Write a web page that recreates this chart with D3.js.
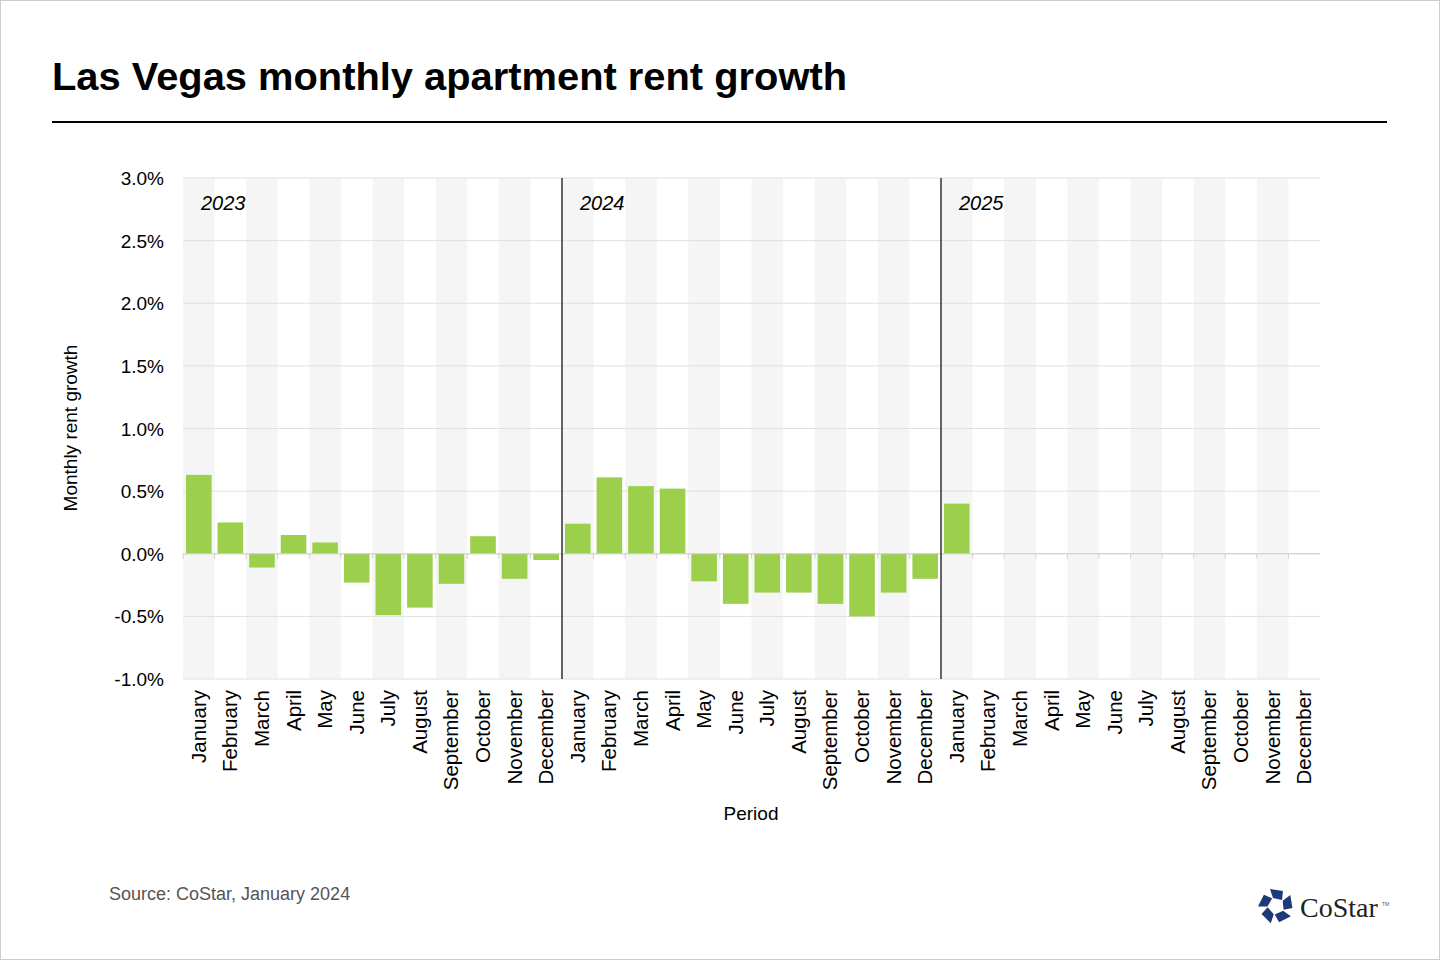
<!DOCTYPE html>
<html><head><meta charset="utf-8">
<script src="https://cdn.jsdelivr.net/npm/d3@7"></script>
<style>body{margin:0;background:#fff;font-family:Arial,"Liberation Sans",sans-serif}</style>
</head><body>
<svg id="c" width="1440" height="960"></svg>
<script>
// data
const months = ['January','February','March','April','May','June','July','August','September','October','November','December'];
const years = ['2023', '2024', '2025'];
const growth2023 = [0.63, 0.25, -0.11, 0.15, 0.09, -0.23, -0.49, -0.43, -0.24, 0.14, -0.20, -0.05];
const growth2024 = [0.24, 0.61, 0.54, 0.52, -0.22, -0.40, -0.31, -0.31, -0.40, -0.50, -0.31, -0.20];
const growth2025 = [0.40];
const yTicks = [-1.0, -0.5, 0, 0.5, 1.0, 1.5, 2.0, 2.5, 3.0];

const periods = [];
years.forEach((yr) => months.forEach((m) => periods.push(yr + '-' + m)));
const values = [...growth2023, ...growth2024, ...growth2025];

const svg = d3.select('#c');
svg.append('rect').attr('x', 0.5).attr('y', 0.5).attr('width', 1439).attr('height', 959)
  .attr('fill', '#fff').attr('stroke', '#ccc');

svg.append('text').attr('x', 52).attr('y', 90).text('Las Vegas monthly apartment rent growth')
  .attr('font-size', 39).attr('font-weight', 'bold').attr('fill', '#000')
  .attr('textLength', 795).attr('lengthAdjust', 'spacingAndGlyphs');
svg.append('line').attr('x1', 52).attr('x2', 1387).attr('y1', 122).attr('y2', 122)
  .attr('stroke', '#000').attr('stroke-width', 2);

const plotLeft = 183, plotRight = 1320, plotTop = 178, plotBottom = 679;
const x = d3.scaleBand().domain(periods).range([plotLeft, plotRight]).paddingInner(0);
const y = d3.scaleLinear().domain([-1, 3]).range([plotBottom, plotTop]);

// shaded bands
svg.append('g').selectAll('rect').data(periods.filter((d, i) => i % 2 === 0)).join('rect')
  .attr('x', (d) => x(d)).attr('width', x.bandwidth()).attr('y', plotTop).attr('height', plotBottom - plotTop)
  .attr('fill', '#f5f5f5');

// gridlines
svg.append('g').selectAll('line').data(yTicks).join('line')
  .attr('x1', plotLeft).attr('x2', plotRight).attr('y1', (d) => y(d)).attr('y2', (d) => y(d))
  .attr('stroke', '#e0e0e0');

// y labels
svg.append('g').selectAll('text').data(yTicks).join('text')
  .attr('x', 164).attr('y', (d) => y(d) + 7).attr('text-anchor', 'end')
  .attr('font-size', 19).attr('fill', '#000').text((d) => d.toFixed(1) + '%');

// bars
const pad = 3;
svg.append('g').selectAll('rect').data(values).join('rect')
  .attr('x', (d, i) => x(periods[i]) + pad)
  .attr('width', x.bandwidth() - pad * 2)
  .attr('y', (d) => y(Math.max(0, d)))
  .attr('height', (d) => Math.abs(y(d) - y(0)))
  .attr('fill', '#9bcf4c');

// zero line
svg.append('line').attr('x1', plotLeft).attr('x2', plotRight).attr('y1', y(0)).attr('y2', y(0))
  .attr('stroke', '#d0d0d0');
svg.append('g').selectAll('line').data(periods).join('line')
  .attr('x1', (d) => x(d)).attr('x2', (d) => x(d)).attr('y1', y(0)).attr('y2', y(0) + 5)
  .attr('stroke', '#d0d0d0');

// year separators + labels
years.forEach((yr, k) => {
  const x0 = x(yr + '-January');
  if (k > 0) svg.append('line').attr('x1', x0).attr('x2', x0).attr('y1', plotTop).attr('y2', plotBottom)
    .attr('stroke', '#000').attr('stroke-width', 1.2);
  svg.append('text').attr('x', x0 + 18).attr('y', 210).text(yr)
    .attr('font-size', 20).attr('font-style', 'italic').attr('fill', '#000');
});

// month labels
svg.append('g').selectAll('text').data(periods).join('text')
  .attr('transform', (d) => `translate(${x(d) + x.bandwidth() / 2 + 7},690) rotate(-90)`)
  .attr('text-anchor', 'end').attr('font-size', 20.5).attr('fill', '#000')
  .text((d) => d.split('-')[1]);

svg.append('text').attr('x', 751).attr('y', 820).attr('text-anchor', 'middle')
  .attr('font-size', 19).text('Period');
svg.append('text').attr('transform', 'translate(77,428) rotate(-90)').attr('text-anchor', 'middle')
  .attr('font-size', 19).text('Monthly rent growth');

svg.append('text').attr('x', 109).attr('y', 900).attr('font-size', 18).attr('fill', '#555')
  .text('Source: CoStar, January 2024');

// logo
const logo = svg.append('g').attr('transform', 'translate(1276,906)');
for (let i = 0; i < 5; i++) {
  logo.append('path').attr('d', 'M-6,-17 L7,-15 L6,-6 L-3,-8 Z')
    .attr('transform', `rotate(${i * 72})`).attr('fill', '#1c3a7a');
}
svg.append('text').attr('x', 1300).attr('y', 917).attr('font-family', '"Liberation Serif",serif')
  .attr('font-size', 28).attr('fill', '#222').text('CoStar');
svg.append('text').attr('x', 1382).attr('y', 906).attr('font-size', 5).attr('fill', '#555').text('TM');
</script>
</body></html>
